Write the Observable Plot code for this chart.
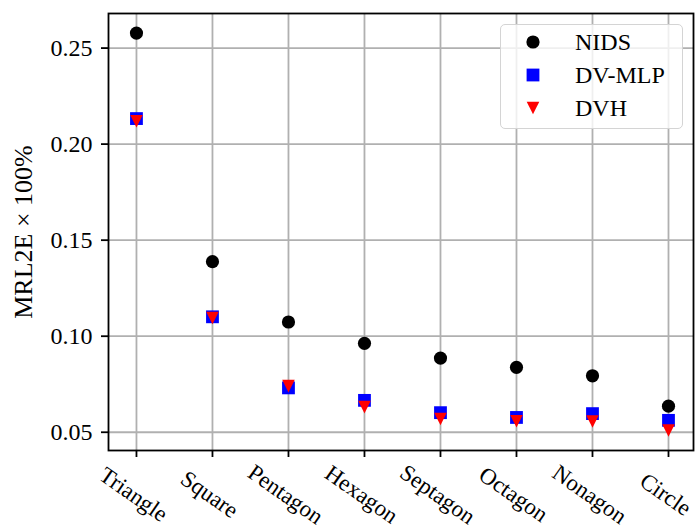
<!DOCTYPE html>
<html>
<head>
<meta charset="utf-8">
<script src="https://cdn.jsdelivr.net/npm/d3@7"></script>
<script src="https://cdn.jsdelivr.net/npm/@observablehq/plot@0.6"></script>
<style>
  html, body { margin: 0; padding: 0; background: #fff; }
  #wrap { position: relative; width: 697px; height: 531px; font-family: "Liberation Serif", serif; }
  #legend {
    position: absolute; left: 500px; top: 24px; width: 181px; height: 103px;
    border: 1.5px solid #d4d4d4; border-radius: 5px; background: rgba(255,255,255,0.8);
  }
</style>
</head>
<body>
<div id="wrap"></div>
<script>
const categories = ["Triangle", "Square", "Pentagon", "Hexagon", "Septagon", "Octagon", "Nonagon", "Circle"];
const nids  = [0.2578, 0.1388, 0.1074, 0.0963, 0.0886, 0.0838, 0.0794, 0.0636];
const dvmlp = [0.2133, 0.1101, 0.0731, 0.0666, 0.0602, 0.0577, 0.0597, 0.0562];
const dvh   = [0.2119, 0.1095, 0.0740, 0.0631, 0.0569, 0.0557, 0.0556, 0.0509];
const seriesNames = ["NIDS", "DV-MLP", "DVH"];
const seriesColors = ["black", "#0000ff", "#ff0000"];
const yTicks = [0.05, 0.10, 0.15, 0.20, 0.25];
const yLabel = "MRL2E × 100%";

const font = "Liberation Serif";
const idx = categories.map((c, i) => i);
const squareSym = {draw(ctx, size) { const h = Math.sqrt(size / Math.PI); ctx.rect(-h, -h, 2 * h, 2 * h); }};
const triDownSym = {draw(ctx, size) { const h = Math.sqrt(size / Math.PI); ctx.moveTo(-h, -h); ctx.lineTo(h, -h); ctx.lineTo(0, h); ctx.closePath(); }};

const rows = (vals) => categories.map((c, i) => ({i, cat: c, v: vals[i]}));

const chart = Plot.plot({
  width: 697,
  height: 531,
  marginTop: 13,
  marginBottom: 81,
  marginLeft: 108,
  marginRight: 4,
  style: {fontFamily: font, fontSize: "24px", background: "white", color: "black"},
  x: {type: "linear", domain: [-0.368, 7.329]},
  y: {domain: [0.0405, 0.268]},
  marks: [
    Plot.gridX(idx, {stroke: "#b0b0b0", strokeOpacity: 1, strokeWidth: 1.8}),
    Plot.gridY(yTicks, {stroke: "#b0b0b0", strokeOpacity: 1, strokeWidth: 1.8}),
    Plot.axisY(yTicks, {tickFormat: d3.format(".2f"), tickSize: 7, tickPadding: 9, strokeWidth: 1.8, fontSize: 24, label: null}),
    Plot.axisX(idx, {tickSize: 7, strokeWidth: 1.8, tickFormat: () => "", label: null}),
    Plot.text(rows(nids), {x: "i", text: "cat", frameAnchor: "bottom", dx: -3, dy: 44, rotate: 35, textAnchor: "middle", lineAnchor: "middle", fontSize: 23}),
    Plot.text([yLabel], {frameAnchor: "left", dx: -85, rotate: -90, textAnchor: "middle", lineAnchor: "middle", fontSize: 26}),
    Plot.dot(rows(nids), {x: "i", y: "v", r: 6.6, fill: seriesColors[0], stroke: null}),
    Plot.dot(rows(dvmlp), {x: "i", y: "v", r: 6.4, symbol: squareSym, fill: seriesColors[1], stroke: null}),
    Plot.dot(rows(dvh), {x: "i", y: "v", r: 6.3, symbol: triDownSym, fill: seriesColors[2], stroke: null}),
    Plot.frame({stroke: "black", strokeWidth: 1.8})
  ]
});

const wrap = document.getElementById("wrap");
wrap.appendChild(chart);

// Legend
const legend = document.createElement("div");
legend.id = "legend";
const ns = "http://www.w3.org/2000/svg";
const svg = document.createElementNS(ns, "svg");
svg.setAttribute("width", 181);
svg.setAttribute("height", 103);
svg.style.fontFamily = font;
seriesNames.forEach((name, i) => {
  const cy = 17 + i * 33;
  const cx = 32;
  let shape;
  if (i === 0) {
    shape = document.createElementNS(ns, "circle");
    shape.setAttribute("cx", cx); shape.setAttribute("cy", cy); shape.setAttribute("r", 6.6);
  } else if (i === 1) {
    shape = document.createElementNS(ns, "rect");
    shape.setAttribute("x", cx - 6.4); shape.setAttribute("y", cy - 6.4);
    shape.setAttribute("width", 12.8); shape.setAttribute("height", 12.8);
  } else {
    shape = document.createElementNS(ns, "path");
    shape.setAttribute("d", `M${cx - 6.3},${cy - 6.3}L${cx + 6.3},${cy - 6.3}L${cx},${cy + 6.3}Z`);
  }
  shape.setAttribute("fill", seriesColors[i]);
  svg.appendChild(shape);
  const t = document.createElementNS(ns, "text");
  t.setAttribute("x", 74);
  t.setAttribute("y", cy);
  t.setAttribute("dy", "0.35em");
  t.setAttribute("font-size", 24);
  t.textContent = name;
  svg.appendChild(t);
});
legend.appendChild(svg);
wrap.appendChild(legend);
</script>
</body>
</html>
